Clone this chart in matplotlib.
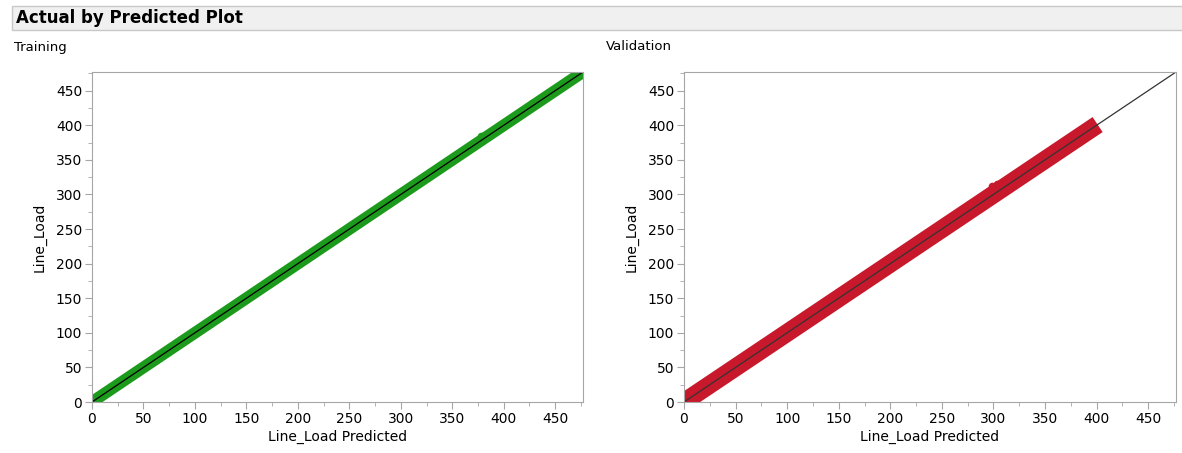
import numpy as np
import matplotlib.pyplot as plt
from matplotlib.patches import Rectangle
from matplotlib.ticker import MultipleLocator

# Training: predicted vs actual (read along the band)
train_pred = [-5, 0, 100, 200, 300, 400, 480]
train_actual = [-5, 0, 100, 200, 300, 400, 480]
# small bumps visible on the band
train_bump_pred = [378, 427, 470]
train_bump_actual = [385, 432, 477]

# Validation: predicted vs actual
val_pred = [-5, 0, 100, 200, 300, 401]
val_actual = [-5, 0, 100, 200, 300, 401]
val_bump_pred = [299, 303]
val_bump_actual = [312, 315]

lim = 477

green = '#1b9a1b'
red = '#c8182c'
spine = '#a6a6a6'

fig = plt.figure(figsize=(11.82, 4.53), dpi=100)

# header bar
fig.patches.append(Rectangle((12 / 1182, 1 - 30 / 453), 1.0, 24 / 453,
                             transform=fig.transFigure, facecolor='#f0f0f0',
                             edgecolor='#c8c8c8', lw=1))
fig.text(16 / 1182, 1 - 18 / 453, 'Actual by Predicted Plot', fontsize=12,
         fontweight='bold', va='center', ha='left')
fig.text(14 / 1182, 1 - 47 / 453, 'Training', fontsize=9.5, va='center')
fig.text(606 / 1182, 1 - 47 / 453, 'Validation', fontsize=9.5, va='center')

ax1 = fig.add_axes([92 / 1182, 51 / 453, 491 / 1182, 330 / 453])
ax2 = fig.add_axes([684 / 1182, 51 / 453, 492 / 1182, 330 / 453])


def style(ax):
    ax.set_xlim(0, lim)
    ax.set_ylim(0, lim)
    ax.xaxis.set_major_locator(MultipleLocator(50))
    ax.yaxis.set_major_locator(MultipleLocator(50))
    ax.xaxis.set_minor_locator(MultipleLocator(25))
    ax.yaxis.set_minor_locator(MultipleLocator(25))
    ax.tick_params(which='major', length=5, color=spine, labelsize=10, pad=2)
    ax.tick_params(which='minor', length=3, color=spine)
    for s in ax.spines.values():
        s.set_color(spine)
    ax.set_xlabel('Line_Load Predicted', fontsize=10, labelpad=3)
    ax.set_ylabel('Line_Load', fontsize=10, labelpad=7)


ax1.plot(train_pred, train_actual, color=green, lw=8.5, solid_capstyle='butt')
ax1.scatter(train_bump_pred, train_bump_actual, color=green, s=30, lw=0)
ax1.plot([0, lim], [0, lim], color='black', lw=0.9)
style(ax1)

ax2.plot(val_pred, val_actual, color=red, lw=13, solid_capstyle='butt')
ax2.scatter(val_bump_pred, val_bump_actual, color=red, s=30, lw=0)
ax2.plot([0, lim], [0, lim], color='#333333', lw=0.9)
style(ax2)

plt.savefig('out.png', dpi=100)
